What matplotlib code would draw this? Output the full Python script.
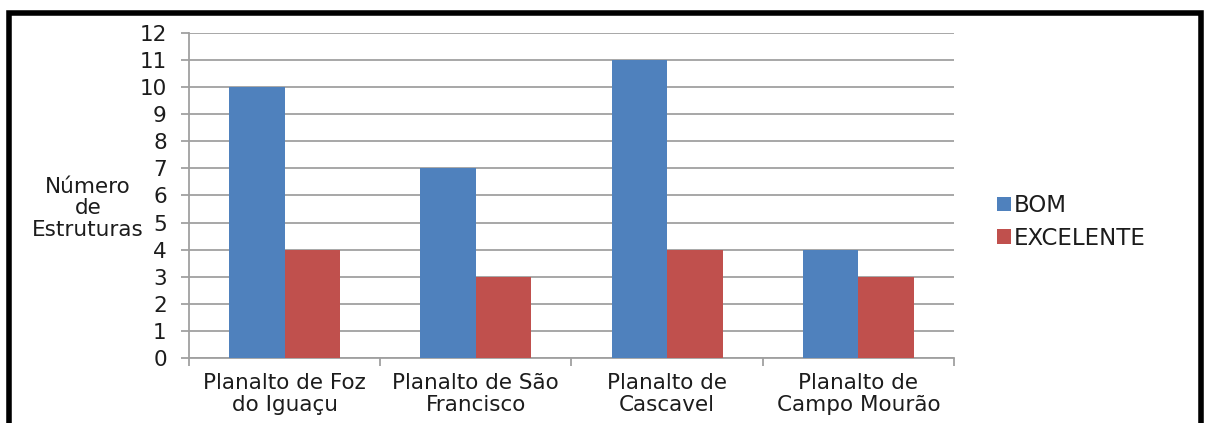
import numpy as np
import matplotlib.pyplot as plt
from matplotlib.patches import Rectangle

plt.rcParams['font.family'] = ['DejaVu Sans']

categorias = ['Planalto de Foz\ndo Iguaçu', 'Planalto de São\nFrancisco',
              'Planalto de\nCascavel', 'Planalto de\nCampo Mourão']
bom = [10, 7, 11, 4]
excelente = [4, 3, 4, 3]

cor_bom = '#4F81BD'
cor_exc = '#C0504D'
cinza = '#A0A0A0'
texto = '#1c1c1c'
fs = 15.5

fig = plt.figure(figsize=(12.06, 4.23), dpi=100)
ax = fig.add_axes([0.1567, 0.1537, 0.791 - 0.1567, 0.922 - 0.1537])

x = np.arange(len(categorias))
w = 0.29
ax.bar(x - w / 2, bom, w, color=cor_bom, label='BOM', zorder=3)
ax.bar(x + w / 2, excelente, w, color=cor_exc, label='EXCELENTE', zorder=3)

ax.set_xlim(-0.5, len(categorias) - 0.5)
ax.set_ylim(0, 12)
ax.set_yticks(range(0, 13))
ax.yaxis.grid(True, color=cinza, linewidth=1.3, zorder=0)

ax.set_xticks(x)
ax.set_xticklabels(categorias, fontsize=fs, color=texto, linespacing=1.12)
ax.set_xticks(np.arange(-0.5, len(categorias)), minor=True)
ax.tick_params(axis='x', which='major', length=0, pad=11)
ax.tick_params(axis='x', which='minor', length=6, width=1.3, color=cinza, direction='out')
ax.tick_params(axis='y', length=6, width=1.3, color=cinza, direction='out',
               labelsize=fs, labelcolor=texto, pad=10)

for s in ['top', 'right']:
    ax.spines[s].set_visible(False)
for s in ['left', 'bottom']:
    ax.spines[s].set_color(cinza)
    ax.spines[s].set_linewidth(1.3)

ax.set_ylabel('Número\nde\nEstruturas', rotation=0, fontsize=fs, color=texto,
              linespacing=1.12, va='center', ha='center')
ax.yaxis.set_label_coords(-0.132, 0.46)

fig.legend(loc='upper left', bbox_to_anchor=(0.8095, 0.59), frameon=False,
           fontsize=16.5, handlelength=0.6, handleheight=0.6, handletextpad=0.15,
           labelspacing=0.42, labelcolor=texto)

fig.patches.append(Rectangle((9 / 1206, -0.1), 1192 / 1206, 1.1 - 13.5 / 423,
                             transform=fig.transFigure, fill=False,
                             edgecolor='black', linewidth=4, zorder=10))

fig.savefig('out.png', dpi=100)
